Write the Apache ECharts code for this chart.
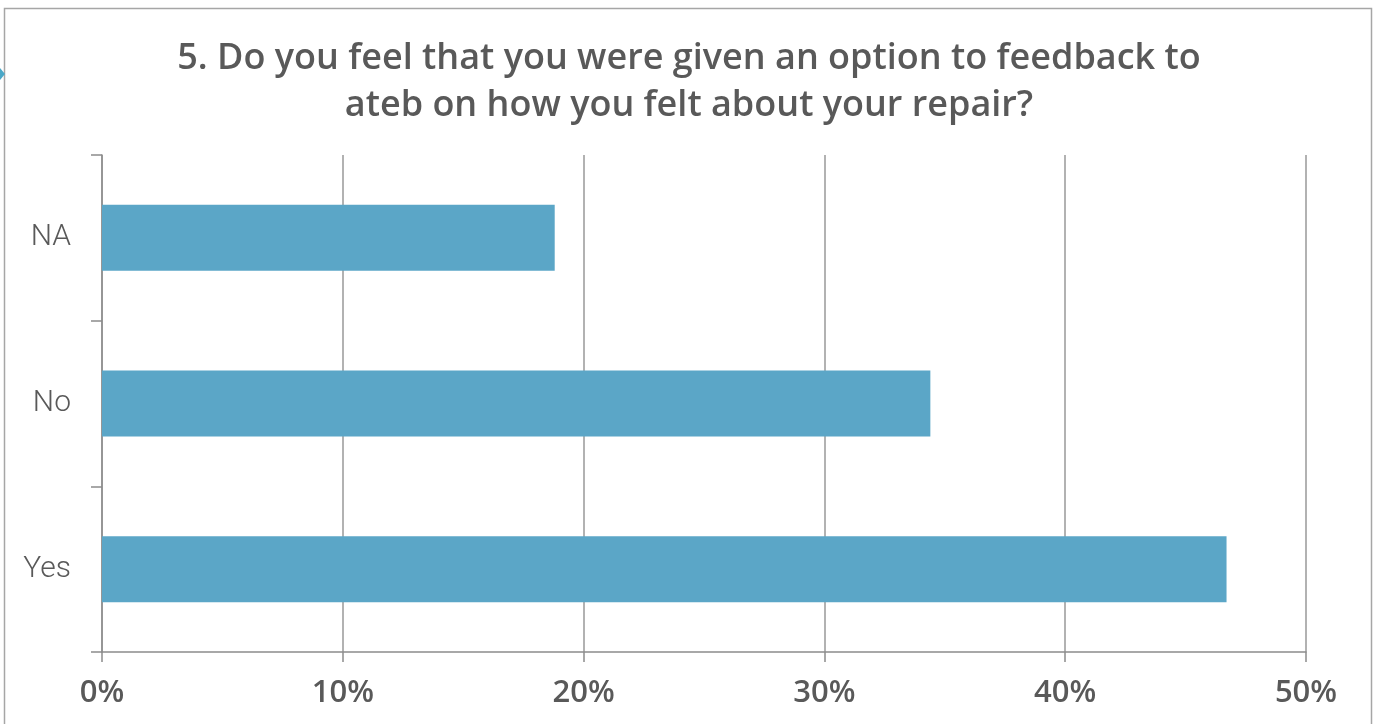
<!DOCTYPE html>
<html><head><meta charset="utf-8">
<script src="https://cdn.jsdelivr.net/npm/echarts@6/dist/echarts.min.js"></script>
<style>html,body{margin:0;padding:0;background:#fff}#c{width:1378px;height:724px}</style>
</head><body><div id="c"></div>
<script>
const categories = ['Yes', 'No', 'NA'];
const values = [46.7, 34.4, 18.8];
const tickMax = 50;
const titleText = '5. Do you feel that you were given an option to feedback to\nateb on how you felt about your repair?';

const chart = echarts.init(document.getElementById('c'));
chart.setOption({
  animation: false,
  backgroundColor: '#fff',
  title: {
    text: titleText, left: 'center', top: 30,
    textStyle: { fontFamily: 'Open Sans', fontWeight: 600, fontSize: 36, color: '#595959', lineHeight: 47 }
  },
  graphic: [
    { type: 'rect', shape: { x: 4.5, y: 8.5, width: 1367, height: 730 }, style: { fill: 'none', stroke: '#a6a6a6', lineWidth: 1.5 }, silent: true },
    { type: 'polygon', shape: { points: [[0, 68], [5, 74], [0, 80]] }, style: { fill: '#4aa8c8' }, silent: true }
  ],
  grid: { left: 102, right: 72, top: 155, bottom: 72, containLabel: false },
  xAxis: {
    type: 'value', min: 0, max: tickMax, interval: 10,
    axisLine: { show: true, lineStyle: { color: '#8c8c8c', width: 1.5 } },
    axisTick: { show: true, length: 10, lineStyle: { color: '#8c8c8c', width: 1.5 } },
    splitLine: { show: true, lineStyle: { color: '#999', width: 1.5 } },
    axisLabel: { formatter: '{value}%', fontFamily: 'Open Sans', fontWeight: 600, fontSize: 31, color: '#595959', margin: 26 }
  },
  yAxis: {
    type: 'category', data: categories,
    axisLine: { show: true, lineStyle: { color: '#8c8c8c', width: 1.5 } },
    axisTick: { show: true, length: 11, lineStyle: { color: '#8c8c8c', width: 1.5 } },
    axisLabel: { fontFamily: 'Roboto', fontWeight: 300, fontSize: 30, color: '#595959', margin: 31 }
  },
  series: [{
    type: 'bar', data: values, barWidth: 66,
    itemStyle: { color: '#5ba6c7' }
  }]
});
</script></body></html>
